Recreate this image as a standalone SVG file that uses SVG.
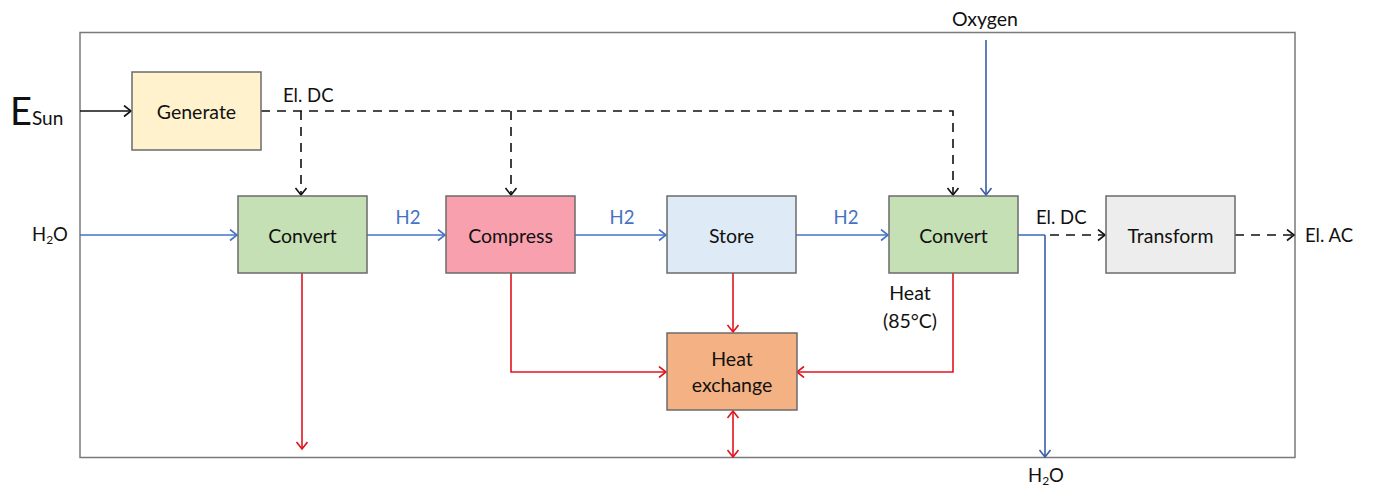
<svg xmlns="http://www.w3.org/2000/svg" width="1374" height="488" viewBox="0 0 1374 488">
<style>
.box{stroke:#6b6b6b;stroke-width:1.5}
.t{font-family:Lato,"Open Sans","Liberation Sans",sans-serif;font-size:19.5px;fill:#111;text-anchor:middle;dominant-baseline:central}
.lbl{font-family:Lato,"Open Sans","Liberation Sans",sans-serif;font-size:18.5px;fill:#111}
.h2{font-family:Lato,"Open Sans","Liberation Sans",sans-serif;font-size:18.5px;fill:#4472C4;text-anchor:middle}
.blk{stroke:#111;stroke-width:1.6;fill:none}
.dash{stroke:#111;stroke-width:1.6;fill:none;stroke-dasharray:9,7}
.blu{stroke:#4472C4;stroke-width:1.6;fill:none}
.dblu{stroke:#3A5DA6;stroke-width:1.6;fill:none}
.red{stroke:#E0141E;stroke-width:1.6;fill:none}
</style>
<defs>
<marker id="ak" markerUnits="userSpaceOnUse" markerWidth="12" markerHeight="14" refX="8" refY="6" orient="auto"><path d="M1,0.5 L8,6 L1,11.5" fill="none" stroke="#111" stroke-width="1.6"/></marker>
<marker id="ab" markerUnits="userSpaceOnUse" markerWidth="12" markerHeight="14" refX="8" refY="6" orient="auto"><path d="M1,0.5 L8,6 L1,11.5" fill="none" stroke="#4472C4" stroke-width="1.6"/></marker>
<marker id="ad" markerUnits="userSpaceOnUse" markerWidth="12" markerHeight="14" refX="8" refY="6" orient="auto"><path d="M1,0.5 L8,6 L1,11.5" fill="none" stroke="#3A5DA6" stroke-width="1.6"/></marker>
<marker id="ar" markerUnits="userSpaceOnUse" markerWidth="12" markerHeight="14" refX="8" refY="6" orient="auto-start-reverse"><path d="M1,0.5 L8,6 L1,11.5" fill="none" stroke="#E0141E" stroke-width="1.6"/></marker>
</defs>
<rect width="1374" height="488" fill="#fff"/>
<rect id="frame" x="80" y="32.5" width="1215" height="425" fill="none" stroke="#7a7a7a" stroke-width="1.5"/>

<g id="connectors">
<line class="blk" x1="80" y1="111" x2="131" y2="111" marker-end="url(#ak)"/>
<path class="dash" d="M261,111 H953 V195" marker-end="url(#ak)"/>
<path class="dash" d="M301,111 V195" marker-end="url(#ak)"/>
<path class="dash" d="M511,111 V195" marker-end="url(#ak)"/>
<line class="dblu" x1="986" y1="40" x2="986" y2="195" marker-end="url(#ad)"/>
<line class="blu" x1="80" y1="235" x2="237" y2="235" marker-end="url(#ab)"/>
<line class="blu" x1="367" y1="235" x2="445" y2="235" marker-end="url(#ab)"/>
<line class="blu" x1="575" y1="235" x2="666" y2="235" marker-end="url(#ab)"/>
<line class="blu" x1="796" y1="235" x2="888" y2="235" marker-end="url(#ab)"/>
<line class="blu" x1="1018" y1="235" x2="1045" y2="235"/>
<line class="dblu" x1="1045" y1="235" x2="1045" y2="457" marker-end="url(#ad)"/>
<path class="dash" d="M1050,235 H1105" marker-end="url(#ak)"/>
<path class="dash" d="M1235,235 H1294" marker-end="url(#ak)"/>
<line class="red" x1="302" y1="273" x2="302" y2="449" marker-end="url(#ar)"/>
<path class="red" d="M511,273 V372 H666" marker-end="url(#ar)"/>
<line class="red" x1="733" y1="273" x2="733" y2="332" marker-end="url(#ar)"/>
<path class="red" d="M953,273 V372 H797" marker-end="url(#ar)"/>
<line class="red" x1="733" y1="411" x2="733" y2="457" marker-start="url(#ar)" marker-end="url(#ar)"/>
</g>

<g id="generate"><rect class="box" x="132" y="72" width="129" height="78" fill="#FFF2CC"/><text class="t" x="196.5" y="111">Generate</text></g>
<g id="convert1"><rect class="box" x="238" y="196" width="129" height="77" fill="#C5E0B4"/><text class="t" x="302.5" y="235">Convert</text></g>
<g id="compress"><rect class="box" x="446" y="196" width="129" height="77" fill="#F8A0AE"/><text class="t" x="510.5" y="235">Compress</text></g>
<g id="store"><rect class="box" x="667" y="196" width="129" height="77" fill="#DEEBF7"/><text class="t" x="731.5" y="235">Store</text></g>
<g id="convert2"><rect class="box" x="889" y="196" width="129" height="77" fill="#C5E0B4"/><text class="t" x="953.5" y="235">Convert</text></g>
<g id="transform"><rect class="box" x="1106" y="196" width="129" height="77" fill="#EDEDED"/><text class="t" x="1170.5" y="235">Transform</text></g>
<g id="heatexchange"><rect class="box" x="667" y="333" width="130" height="77" fill="#F4B183"/><text class="t" x="732" y="358">Heat</text><text class="t" x="732" y="384">exchange</text></g>

<g id="labels">
<text x="10" y="125" font-family="Lato,'Open Sans','Liberation Sans',sans-serif" font-size="38" fill="#111">E<tspan font-size="19">Sun</tspan></text>
<text class="lbl" x="32" y="241">H<tspan font-size="12" dy="3">2</tspan><tspan dy="-3">O</tspan></text>
<text class="lbl" x="283" y="102">El. DC</text>
<text class="h2" x="408" y="224">H2</text>
<text class="h2" x="622" y="224">H2</text>
<text class="h2" x="846" y="224">H2</text>
<text class="t" x="985" y="18">Oxygen</text>
<text class="lbl" x="1036" y="224">El. DC</text>
<text class="lbl" x="1305" y="242">El. AC</text>
<text class="t" x="910" y="292">Heat</text>
<text class="t" x="910" y="320">(85°C)</text>
<text class="lbl" x="1028" y="482">H<tspan font-size="12" dy="3">2</tspan><tspan dy="-3">O</tspan></text>
</g>
</svg>
